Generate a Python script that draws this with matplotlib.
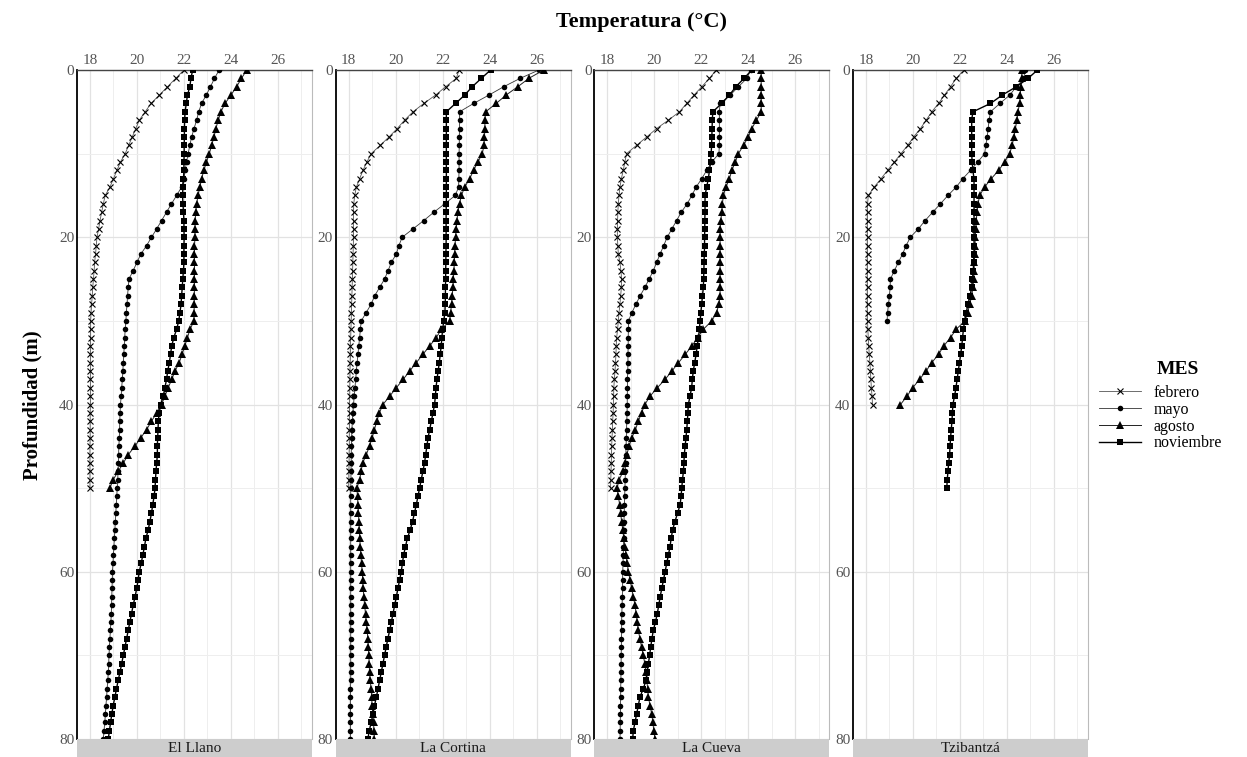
import numpy as np
import matplotlib
matplotlib.use("Agg")
import matplotlib.pyplot as plt
from matplotlib.lines import Line2D

plt.rcParams['font.family'] = ['Liberation Serif', 'DejaVu Serif']

sites = ["El Llano", "La Cortina", "La Cueva", "Tzibantzá"]
months = ["febrero", "mayo", "agosto", "noviembre"]

# ---- El Llano ----
llano_feb = [22.0, 21.65, 21.3, 20.95, 20.6, 20.35, 20.1, 19.95, 19.8, 19.65,
             19.5, 19.3, 19.15, 19.0, 18.85, 18.65, 18.57, 18.5, 18.43, 18.37,
             18.3, 18.27, 18.24, 18.2, 18.18, 18.15, 18.12, 18.1, 18.07, 18.05,
             18.03, 18.03, 18.03, 18.02, 18.02, 18.02, 18.02, 18.02, 18.02, 18.02,
             18.02, 18.01, 18.01, 18.01, 18.01, 18.0, 18.0, 18.0, 18.0, 18.0,
             18.0]
llano_may = [23.5, 23.3, 23.13, 22.95, 22.75, 22.63, 22.54, 22.43, 22.33, 22.25,
             22.18, 22.11, 22.05, 22.0, 21.9, 21.69, 21.47, 21.26, 21.05, 20.84,
             20.62, 20.41, 20.17, 20.0, 19.84, 19.66, 19.63, 19.6, 19.58, 19.55,
             19.53, 19.5, 19.48, 19.46, 19.44, 19.42, 19.4, 19.38, 19.35, 19.33,
             19.3, 19.28, 19.27, 19.26, 19.25, 19.23, 19.22, 19.21, 19.2, 19.18,
             19.16, 19.14, 19.12, 19.1, 19.08, 19.06, 19.04, 19.02, 19.0, 18.98,
             18.96, 18.95, 18.94, 18.93, 18.92, 18.91, 18.89, 18.87, 18.85, 18.83,
             18.81, 18.8, 18.78, 18.76, 18.73, 18.71, 18.68, 18.66, 18.63, 18.6,
             18.57]
llano_ago = [24.67, 24.45, 24.24, 24.0, 23.75, 23.57, 23.46, 23.36, 23.28, 23.18,
             23.08, 22.96, 22.85, 22.75, 22.68, 22.6, 22.54, 22.5, 22.48, 22.47,
             22.47, 22.45, 22.45, 22.45, 22.45, 22.45, 22.45, 22.44, 22.44, 22.43,
             22.43, 22.26, 22.15, 22.04, 21.92, 21.8, 21.62, 21.48, 21.33, 21.19,
             21.05, 20.84, 20.62, 20.41, 20.16, 19.91, 19.63, 19.42, 19.2, 18.99,
             18.85]
llano_nov = [22.37, 22.3, 22.25, 22.15, 22.1, 22.05, 22.03, 22.02, 22.02, 22.01,
             22.01, 22.0, 22.0, 21.98, 21.96, 21.94, 21.96, 21.98, 22.0, 22.0,
             22.01, 22.0, 22.0, 22.0, 21.98, 21.95, 21.93, 21.9, 21.88, 21.83,
             21.78, 21.69, 21.57, 21.48, 21.43, 21.38, 21.31, 21.26, 21.19, 21.12,
             21.01, 20.95, 20.91, 20.9, 20.88, 20.87, 20.87, 20.84, 20.81, 20.79,
             20.77, 20.73, 20.67, 20.62, 20.55, 20.48, 20.38, 20.32, 20.25, 20.18,
             20.1, 20.05, 19.99, 19.92, 19.84, 19.77, 19.7, 19.63, 19.56, 19.49,
             19.42, 19.35, 19.28, 19.2, 19.13, 19.06, 18.99, 18.93, 18.88, 18.83,
             18.78]

# ---- La Cortina ----
cortina_feb = [22.7, 22.58, 22.13, 21.7, 21.2, 20.74, 20.38, 20.07, 19.72, 19.35,
               18.96, 18.78, 18.61, 18.47, 18.33, 18.26, 18.22, 18.21, 18.21, 18.21,
               18.21, 18.2, 18.19, 18.18, 18.17, 18.16, 18.15, 18.14, 18.13, 18.12,
               18.11, 18.1, 18.09, 18.08, 18.08, 18.07, 18.06, 18.06, 18.05, 18.05,
               18.04, 18.04, 18.04, 18.03, 18.03, 18.03, 18.02, 18.02, 18.01, 18.01,
               18.0]
cortina_may = [26.1, 25.3, 24.6, 23.97, 23.32, 22.72, 22.72, 22.72, 22.71, 22.71,
               22.7, 22.7, 22.7, 22.69, 22.68, 22.54, 22.09, 21.63, 21.2, 20.74,
               20.28, 20.14, 20.03, 19.82, 19.68, 19.53, 19.32, 19.11, 18.96, 18.75,
               18.54, 18.5, 18.47, 18.43, 18.4, 18.36, 18.33, 18.3, 18.27, 18.24,
               18.21, 18.18, 18.16, 18.14, 18.13, 18.12, 18.11, 18.11, 18.1, 18.1,
               18.09, 18.09, 18.09, 18.09, 18.09, 18.09, 18.09, 18.09, 18.09, 18.09,
               18.09, 18.09, 18.09, 18.09, 18.09, 18.09, 18.09, 18.09, 18.09, 18.09,
               18.09, 18.09, 18.09, 18.09, 18.08, 18.08, 18.08, 18.08, 18.08, 18.08,
               18.08]
cortina_ago = [26.3, 25.67, 25.2, 24.7, 24.28, 23.83, 23.8, 23.8, 23.78, 23.76,
               23.69, 23.5, 23.32, 23.15, 22.94, 22.8, 22.72, 22.65, 22.61, 22.58,
               22.55, 22.53, 22.51, 22.5, 22.48, 22.46, 22.44, 22.41, 22.38, 22.34,
               22.3, 21.95, 21.73, 21.45, 21.16, 20.88, 20.6, 20.32, 20.03, 19.75,
               19.46, 19.31, 19.2, 19.1, 19.0, 18.89, 18.75, 18.6, 18.53, 18.47,
               18.35, 18.38, 18.4, 18.42, 18.44, 18.46, 18.47, 18.5, 18.52, 18.55,
               18.58, 18.6, 18.62, 18.65, 18.68, 18.72, 18.75, 18.79, 18.82, 18.84,
               18.86, 18.88, 18.89, 18.92, 18.96, 18.98, 19.0, 19.03, 19.06, 19.08,
               19.1]
cortina_nov = [24.04, 23.65, 23.26, 22.94, 22.55, 22.16, 22.16, 22.16, 22.16, 22.16,
               22.16, 22.16, 22.16, 22.16, 22.16, 22.16, 22.16, 22.15, 22.15, 22.15,
               22.15, 22.15, 22.14, 22.14, 22.13, 22.13, 22.12, 22.12, 22.11, 22.1,
               22.05, 22.0, 21.97, 21.94, 21.9, 21.86, 21.81, 21.76, 21.72, 21.69,
               21.66, 21.59, 21.52, 21.45, 21.38, 21.33, 21.28, 21.23, 21.16, 21.09,
               21.02, 20.95, 20.88, 20.8, 20.72, 20.62, 20.5, 20.42, 20.34, 20.29,
               20.24, 20.17, 20.1, 20.03, 19.96, 19.89, 19.82, 19.75, 19.67, 19.6,
               19.53, 19.46, 19.39, 19.32, 19.25, 19.18, 19.1, 19.04, 18.96, 18.88,
               18.82]

# ---- La Cueva ----
cueva_feb = [22.63, 22.35, 22.02, 21.69, 21.38, 21.07, 20.6, 20.1, 19.68, 19.25,
             18.82, 18.75, 18.68, 18.6, 18.54, 18.5, 18.47, 18.45, 18.44, 18.43,
             18.43, 18.45, 18.47, 18.54, 18.58, 18.61, 18.6, 18.57, 18.54, 18.5,
             18.47, 18.44, 18.4, 18.38, 18.37, 18.35, 18.33, 18.3, 18.28, 18.27,
             18.26, 18.25, 18.23, 18.22, 18.2, 18.19, 18.18, 18.17, 18.16, 18.15,
             18.14]
cueva_may = [24.1, 23.94, 23.58, 23.23, 22.8, 22.77, 22.77, 22.77, 22.77, 22.77,
             22.75, 22.45, 22.23, 22.02, 21.78, 21.6, 21.4, 21.15, 20.95, 20.75,
             20.55, 20.4, 20.25, 20.1, 19.96, 19.78, 19.6, 19.4, 19.22, 19.05,
             18.9, 18.9, 18.89, 18.89, 18.88, 18.88, 18.87, 18.86, 18.86, 18.85,
             18.85, 18.84, 18.83, 18.82, 18.81, 18.8, 18.79, 18.78, 18.77, 18.76,
             18.75, 18.74, 18.73, 18.72, 18.71, 18.7, 18.7, 18.69, 18.68, 18.67,
             18.66, 18.65, 18.65, 18.64, 18.63, 18.62, 18.61, 18.61, 18.6, 18.6,
             18.59, 18.59, 18.58, 18.58, 18.57, 18.57, 18.56, 18.56, 18.55, 18.55,
             18.54]
cueva_ago = [24.55, 24.55, 24.55, 24.55, 24.55, 24.55, 24.35, 24.15, 24.0, 23.8,
             23.58, 23.45, 23.3, 23.2, 23.05, 22.94, 22.9, 22.87, 22.83, 22.8,
             22.8, 22.8, 22.8, 22.8, 22.8, 22.8, 22.8, 22.8, 22.75, 22.65,
             22.45, 22.09, 21.85, 21.6, 21.32, 21.03, 20.75, 20.46, 20.13, 19.82,
             19.6, 19.46, 19.32, 19.2, 19.04, 18.93, 18.83, 18.75, 18.68, 18.5,
             18.42, 18.47, 18.53, 18.57, 18.61, 18.66, 18.7, 18.75, 18.8, 18.85,
             18.9, 18.97, 19.04, 19.11, 19.18, 19.23, 19.28, 19.32, 19.39, 19.46,
             19.53, 19.6, 19.64, 19.68, 19.72, 19.75, 19.82, 19.89, 19.94, 19.98,
             20.03]
cueva_nov = [24.15, 23.82, 23.47, 23.2, 22.87, 22.49, 22.47, 22.46, 22.45, 22.44,
             22.42, 22.4, 22.35, 22.3, 22.23, 22.16, 22.16, 22.16, 22.15, 22.15,
             22.14, 22.14, 22.13, 22.12, 22.11, 22.1, 22.09, 22.05, 22.02, 21.98,
             21.95, 21.92, 21.88, 21.83, 21.78, 21.72, 21.66, 21.62, 21.59, 21.52,
             21.45, 21.43, 21.41, 21.38, 21.35, 21.31, 21.28, 21.26, 21.24, 21.2,
             21.17, 21.14, 21.1, 20.99, 20.88, 20.78, 20.72, 20.67, 20.6, 20.53,
             20.46, 20.39, 20.32, 20.25, 20.19, 20.13, 20.05, 19.96, 19.9, 19.85,
             19.8, 19.75, 19.7, 19.65, 19.53, 19.39, 19.32, 19.25, 19.18, 19.11,
             19.08]

# ---- Tzibantzá ----
tzib_feb = [22.17, 21.84, 21.6, 21.34, 21.09, 20.8, 20.56, 20.32, 20.03, 19.78,
            19.49, 19.21, 18.92, 18.64, 18.35, 18.1, 18.07, 18.07, 18.07, 18.07,
            18.07, 18.07, 18.07, 18.07, 18.07, 18.07, 18.07, 18.07, 18.07, 18.07,
            18.07, 18.08, 18.1, 18.12, 18.14, 18.17, 18.19, 18.21, 18.23, 18.26,
            18.28]
tzib_may = [24.75, 24.73, 24.4, 24.12, 23.7, 23.3, 23.24, 23.2, 23.16, 23.1,
            23.05, 22.76, 22.45, 22.12, 21.84, 21.49, 21.17, 20.84, 20.52, 20.23,
            19.89, 19.71, 19.56, 19.38, 19.21, 19.04, 19.03, 19.0, 18.96, 18.92,
            18.9]
tzib_ago = [24.65, 24.62, 24.59, 24.57, 24.54, 24.47, 24.42, 24.36, 24.3, 24.22,
            24.12, 23.9, 23.65, 23.33, 23.05, 22.84, 22.77, 22.72, 22.7, 22.67,
            22.65, 22.64, 22.62, 22.61, 22.6, 22.58, 22.55, 22.5, 22.42, 22.33,
            22.22, 21.84, 21.6, 21.31, 21.09, 20.8, 20.56, 20.28, 19.99, 19.75,
            19.47]
tzib_nov = [25.3, 24.9, 24.4, 23.8, 23.3, 22.55, 22.5, 22.5, 22.5, 22.5,
            22.5, 22.52, 22.55, 22.6, 22.6, 22.6, 22.6, 22.6, 22.6, 22.6,
            22.6, 22.6, 22.6, 22.58, 22.57, 22.53, 22.5, 22.43, 22.34, 22.27,
            22.2, 22.15, 22.11, 22.08, 22.03, 21.98, 21.93, 21.88, 21.83, 21.77,
            21.7, 21.68, 21.66, 21.63, 21.6, 21.58, 21.56, 21.52, 21.49, 21.46,
            21.44]

site_data = {
    "El Llano": [llano_feb, llano_may, llano_ago, llano_nov],
    "La Cortina": [cortina_feb, cortina_may, cortina_ago, cortina_nov],
    "La Cueva": [cueva_feb, cueva_may, cueva_ago, cueva_nov],
    "Tzibantzá": [tzib_feb, tzib_may, tzib_ago, tzib_nov],
}

x_ticks = [18, 20, 22, 24, 26]
y_ticks = [0, 20, 40, 60, 80]

styles = {
    "febrero": dict(marker='x', ms=4.6, mew=0.8, color='#555555', mfc='black', mec='black', lw=0.6),
    "mayo": dict(marker='o', ms=4.0, mew=0, color='#333333', mfc='black', mec='black', lw=0.6),
    "agosto": dict(marker='^', ms=5.3, mew=0, color='#222222', mfc='black', mec='black', lw=0.7),
    "noviembre": dict(marker='s', ms=4.8, mew=0, color='black', mfc='black', mec='black', lw=1.0),
}

W, H = 1247, 757
fig = plt.figure(figsize=(W / 100, H / 100), dpi=100)

top_px, bot_px = 70, 739
pw = 235
for i, site in enumerate(sites):
    left = 77 + i * 258.67
    ax = fig.add_axes([left / W, 1 - bot_px / H, pw / W, (bot_px - top_px) / H])
    for m, vals in zip(months, site_data[site]):
        depth = np.arange(len(vals))
        ax.plot(vals, depth, zorder=3, **styles[m])
    ax.set_xlim(17.45, 27.45)
    ax.set_ylim(80, 0)
    ax.xaxis.tick_top()
    ax.set_xticks(x_ticks)
    ax.set_xticks([19, 21, 23, 25, 27], minor=True)
    ax.set_yticks(y_ticks)
    ax.set_yticks([10, 30, 50, 70], minor=True)
    ax.grid(which='major', color='#E2E2E2', lw=0.9)
    ax.grid(which='minor', color='#EEEEEE', lw=0.7)
    ax.set_axisbelow(True)
    ax.tick_params(which='both', length=0, labelsize=11, labelcolor='#555555', pad=2)
    ax.spines['left'].set_color('black')
    ax.spines['left'].set_linewidth(1.3)
    ax.spines['top'].set_color('#444444')
    ax.spines['top'].set_linewidth(1.0)
    ax.spines['right'].set_color('#BBBBBB')
    ax.spines['right'].set_linewidth(0.8)
    ax.spines['bottom'].set_visible(False)

    sax = fig.add_axes([left / W, 0, pw / W, (H - bot_px) / H])
    sax.set_facecolor('#CDCDCD')
    sax.set_xticks([])
    sax.set_yticks([])
    for s in sax.spines.values():
        s.set_visible(False)
    sax.text(0.5, 0.45, site, ha='center', va='center', fontsize=11,
             color='#1A1A1A', transform=sax.transAxes)

fig.text(641 / W, 1 - 22 / H, 'Temperatura (°C)', ha='center', va='center',
         fontsize=16, fontweight='bold')
fig.text(32 / W, 1 - 405 / H, 'Profundidad (m)', ha='center', va='center',
         rotation=90, fontsize=15, fontweight='bold')

fig.text(1178 / W, 1 - 369 / H, 'MES', ha='center', va='center',
         fontsize=14, fontweight='bold')
handles = [Line2D([], [], **styles[m]) for m in months]
leg = fig.legend(handles, months, loc='upper left', bbox_to_anchor=(1099 / W, 1 - 385 / H),
                 frameon=False, fontsize=11.5, handlelength=2.6,
                 labelspacing=0.05, handletextpad=0.8, borderaxespad=0, borderpad=0)

fig.savefig('out.png', dpi=100)
